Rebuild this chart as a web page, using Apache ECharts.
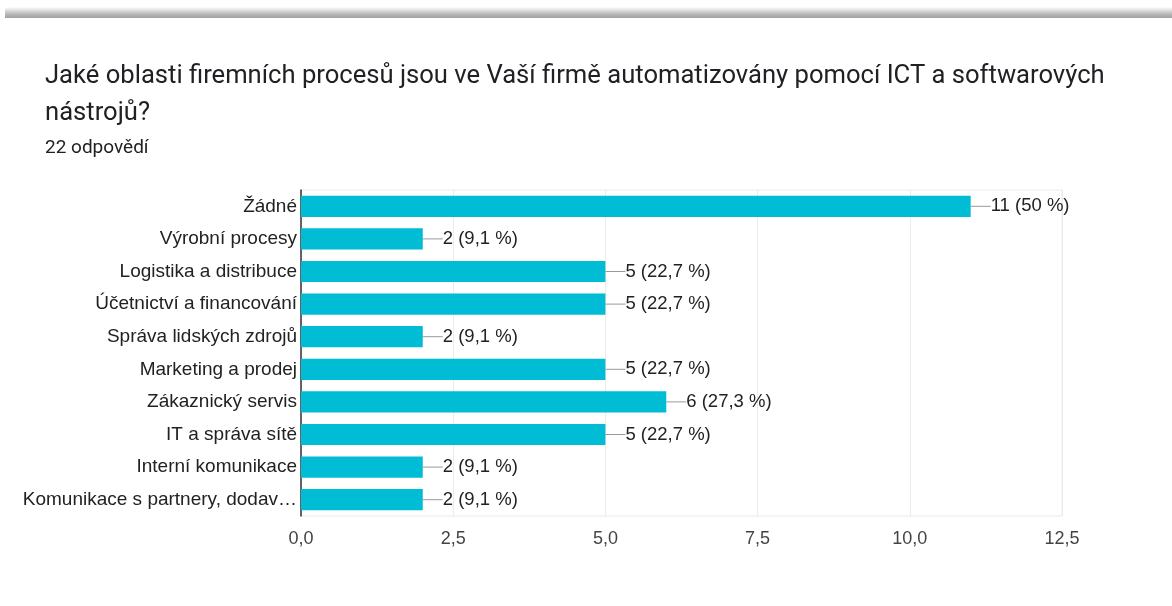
<!DOCTYPE html>
<html>
<head>
<meta charset="utf-8">
<script src="https://cdn.jsdelivr.net/npm/echarts@6/dist/echarts.min.js"></script>
<style>
  html, body { margin: 0; padding: 0; background: #fff; }
  #chart { width: 1172px; height: 606px; }
</style>
</head>
<body>
<div id="chart"></div>
<script>
const categories = [
  "Žádné",
  "Výrobní procesy",
  "Logistika a distribuce",
  "Účetnictví a financování",
  "Správa lidských zdrojů",
  "Marketing a prodej",
  "Zákaznický servis",
  "IT a správa sítě",
  "Interní komunikace",
  "Komunikace s partnery, dodav…"
];
const counts = [11, 2, 5, 5, 2, 5, 6, 5, 2, 2];
const percents = ["50", "9,1", "22,7", "22,7", "9,1", "22,7", "27,3", "22,7", "9,1", "9,1"];
const xTicks = [0, 2.5, 5, 7.5, 10, 12.5];

const titleFont = "Roboto, 'Noto Sans', sans-serif";
const font = "'Liberation Sans', Arial, sans-serif";
const chart = echarts.init(document.getElementById("chart"));

chart.setOption({
  backgroundColor: "#fff",
  animation: false,
  graphic: [
    {
      type: "rect",
      shape: { x: 5, y: 7, width: 1172, height: 11 },
      style: {
        fill: new echarts.graphic.LinearGradient(0, 0, 0, 1, [
          { offset: 0, color: "rgba(160,160,160,0)" },
          { offset: 0.6, color: "rgba(160,160,160,0.7)" },
          { offset: 1, color: "#9e9e9e" }
        ])
      },
      z: 10
    }
  ],
  title: [
    {
      text: "Jaké oblasti firemních procesů jsou ve Vaší firmě automatizovány pomocí ICT a softwarových\nnástrojů?",
      left: 45,
      top: 58,
      padding: 0,
      textStyle: {
        fontFamily: titleFont,
        fontSize: 25.6,
        fontWeight: "normal",
        color: "#202124",
        lineHeight: 37
      }
    },
    {
      text: "22 odpovědí",
      left: 45,
      top: 139,
      padding: 0,
      textStyle: {
        fontFamily: titleFont,
        fontSize: 19,
        fontWeight: "normal",
        color: "#202124"
      }
    }
  ],
  grid: {
    left: 301,
    right: 110,
    top: 190,
    height: 326,
    show: true,
    borderColor: "#ebebeb",
    borderWidth: 1
  },
  xAxis: {
    type: "value",
    min: 0,
    max: 12.5,
    interval: 2.5,
    axisLine: { show: false },
    axisTick: { show: false },
    splitLine: { lineStyle: { color: "#ebebeb" } },
    axisLabel: {
      margin: 14,
      fontFamily: font,
      fontSize: 18,
      color: "#444",
      formatter: (v) => xTicks.includes(v) ? v.toFixed(1).replace(".", ",") : ""
    }
  },
  yAxis: {
    type: "category",
    inverse: true,
    data: categories,
    axisLine: { show: true, lineStyle: { color: "#333", width: 1.5 } },
    axisTick: { show: false },
    axisLabel: {
      margin: 4,
      fontFamily: font,
      fontSize: 19,
      color: "#222"
    }
  },
  series: [
    {
      type: "bar",
      data: counts,
      barCategoryGap: "35%",
      itemStyle: { color: "#00bcd4" },
      label: {
        show: true,
        position: "right",
        distance: 0,
        fontFamily: font,
        fontSize: 18.5,
        color: "#222",
        formatter: (p) => p.value + " (" + percents[p.dataIndex] + " %)"
      },
      labelLayout: { dx: 20 },
      labelLine: {
        show: true,
        lineStyle: { color: "#999", width: 1 }
      }
    }
  ]
});
</script>
</body>
</html>
